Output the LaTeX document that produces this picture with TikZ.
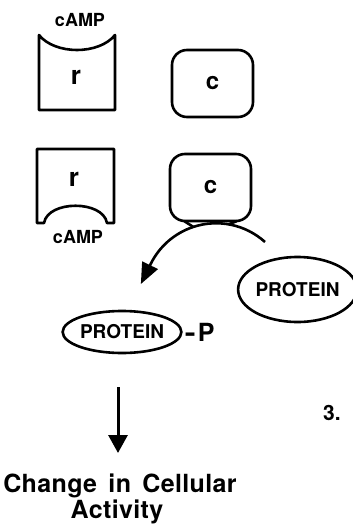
\documentclass[tikz,border=0pt]{standalone}
\usepackage{fontspec}
\setmainfont{TeX Gyre Heros}
\usetikzlibrary{shapes.geometric,arrows.meta}
\begin{document}
\begin{tikzpicture}[x=1pt,y=-1pt,line width=2.6pt,line join=round,
  lbl/.style={inner sep=0pt,font=\bfseries\fontsize{#1pt}{#1pt}\selectfont},
  cbox/.style={draw,rounded corners=15pt,minimum width=81pt,minimum height=67pt,inner sep=0pt,font=\bfseries\fontsize{24pt}{24pt}\selectfont},
  ell/.style={draw,ellipse,inner sep=0pt,font=\bfseries\fontsize{19pt}{19pt}\selectfont}]
\useasboundingbox (0,0) rectangle (353,525);
% top receptor with cAMP site
\draw (39,35) .. controls (55,55) and (99,55) .. (115,35) -- (115,110) -- (39,110) -- cycle;
\node[lbl=18] (campA) at (80,20) {cAMP};
\node[lbl=26] (rA) at (76,77) {r};
\node[cbox] (cA) at (212.5,83.5) {c};
% second row
\draw (37,149) -- (114,149) -- (114,223) -- (107,223) .. controls (103,200) and (48,200) .. (44,223) -- (37,223) -- cycle;
\node[lbl=26] (rB) at (74,179) {r};
\node[lbl=18] (campB) at (78,237) {cAMP};
\node[cbox] (cB) at (210.5,187.5) {c};
% arc arrow
\coordinate (arcS) at (265,242);
\draw[-{Triangle[length=21pt,width=17pt]}] (arcS) arc[start angle=-48,end angle=-154,radius=73] -- ++(-9.7,19.8);
\draw (184,221) .. controls (189,223) .. (193,226.7);
\draw (237,221) .. controls (233,222.5) .. (229,224.2);
% proteins
\node[ell,minimum width=109pt,minimum height=65pt] (pA) at (297.5,289.5) {PROTEIN};
\node[ell,minimum width=108pt,minimum height=42pt] (pB) at (122,332) {PROTEIN};
\node[lbl=25,anchor=west] (ph) at ([xshift=1pt]pB.east) {\scalebox{1.3}[1]{-}\kern2pt P};
% down arrow
\coordinate (a1) at (118,387);
\coordinate (a2) at (118,453);
\draw[line width=3pt,-{Triangle[length=18pt,width=19pt]}] (a1) -- (a2);
\node[lbl=25,anchor=base] (t1) at (120,492) {\addfontfeatures{LetterSpace=1.5}Change\hspace{4pt} in\hspace{4pt} Cellular};
\node[lbl=25,anchor=base] (t2) at (117,518) {\addfontfeatures{LetterSpace=1.5}Activity};
\node[lbl=21] (n3) at (332,413) {3.};
\end{tikzpicture}
\end{document}
